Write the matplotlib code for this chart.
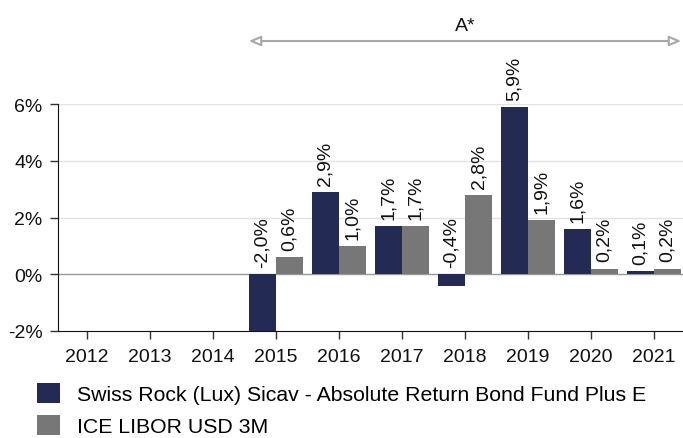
import matplotlib
matplotlib.use("Agg")
import matplotlib.pyplot as plt
import numpy as np

plt.rcParams['font.family'] = ['Liberation Sans', 'DejaVu Sans']

years = ['2012', '2013', '2014', '2015', '2016', '2017', '2018', '2019', '2020', '2021']
fund = [np.nan, np.nan, np.nan, -2.0, 2.9, 1.7, -0.4, 5.9, 1.6, 0.1]
libor = [np.nan, np.nan, np.nan, 0.6, 1.0, 1.7, 2.8, 1.9, 0.2, 0.2]
fund_name = 'Swiss Rock (Lux) Sicav - Absolute Return Bond Fund Plus E'
libor_name = 'ICE LIBOR USD 3M'
yticks = [-2, 0, 2, 4, 6]

navy = '#232b55'
gray = '#777777'

fig = plt.figure(figsize=(6.83, 4.39), dpi=100)
ax = fig.add_axes([58/683, 1 - 332/439, 625/683, 227/439])

x = np.arange(len(years))
w = 0.43
b1 = ax.bar(x - w/2, fund, w, color=navy, label=fund_name, zorder=3)
b2 = ax.bar(x + w/2, libor, w, color=gray, label=libor_name, zorder=3)

def fmt(v):
    return f"{v:.1f}%".replace('.', ',')

for xs, vals in ((x - w/2, fund), (x + w/2, libor)):
    for xi, v in zip(xs, vals):
        if np.isnan(v):
            continue
        ax.text(xi, max(v, 0) + 0.25, fmt(v), rotation=90, ha='center', va='bottom',
                fontsize=14, color='#111111', zorder=4, clip_on=False)

ax.set_xlim(-0.46, len(years) - 0.54)
ax.set_ylim(-2, 6)
ax.set_xticks(x)
ax.set_xticklabels(years, fontsize=14)
ax.set_yticks(yticks)
ax.set_yticklabels([f"{t}%" for t in yticks], fontsize=14)
ax.tick_params(axis='both', direction='out', length=6, width=1, color='#333333', labelcolor='#111111')
ax.tick_params(axis='x', pad=6)
ax.tick_params(axis='y', pad=5)

for t in [2, 4, 6]:
    ax.axhline(t, color='#e3e3e3', lw=1, zorder=1)
ax.axhline(0, color='#999999', lw=1, zorder=2)

ax.spines['top'].set_visible(False)
ax.spines['right'].set_visible(False)
ax.spines['left'].set_color('#111111')
ax.spines['bottom'].set_color('#111111')

ax.annotate('', xy=(3 - w, 8.22), xytext=(9 + w, 8.22), xycoords='data',
            arrowprops=dict(arrowstyle='<|-|>,head_length=0.7,head_width=0.3',
                            facecolor='white', edgecolor='#a8a8a8', lw=1.5,
                            shrinkA=0, shrinkB=0),
            annotation_clip=False)
ax.text(6.0, 8.45, 'A*', ha='center', va='bottom', fontsize=14, color='#111111', clip_on=False)

fig.legend(handles=[b1, b2], loc='upper left', bbox_to_anchor=(37/683, 1 - 384/439),
           frameon=False, fontsize=15.3, handlelength=1.1, handleheight=1.1,
           handletextpad=0.8, labelspacing=0.5, borderpad=0, borderaxespad=0)

fig.savefig('out.png', dpi=100)
